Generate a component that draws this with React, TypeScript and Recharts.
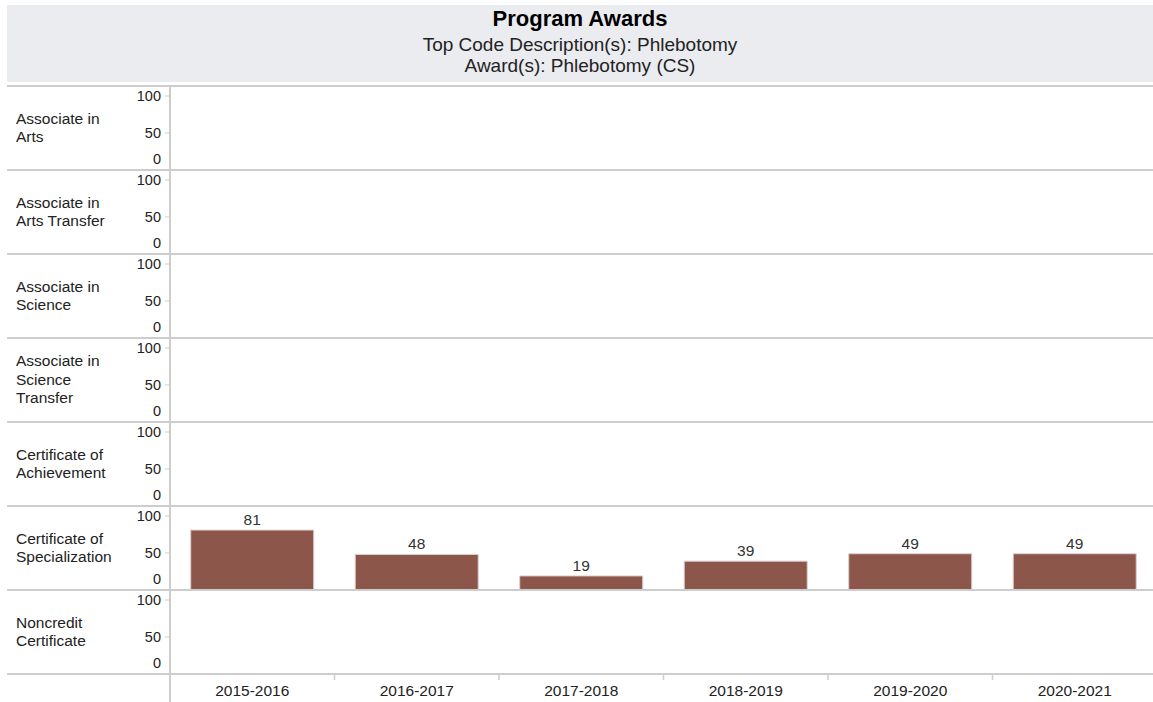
import React from 'react';
import { BarChart, Bar, XAxis, YAxis, LabelList } from 'recharts';

const categories = ['2015-2016', '2016-2017', '2017-2018', '2018-2019', '2019-2020', '2020-2021'];

const associateInArts: (number | null)[] = [null, null, null, null, null, null];
const associateInArtsTransfer: (number | null)[] = [null, null, null, null, null, null];
const associateInScience: (number | null)[] = [null, null, null, null, null, null];
const associateInScienceTransfer: (number | null)[] = [null, null, null, null, null, null];
const certificateOfAchievement: (number | null)[] = [null, null, null, null, null, null];
const certificateOfSpecialization: (number | null)[] = [81, 48, 19, 39, 49, 49];
const noncreditCertificate: (number | null)[] = [null, null, null, null, null, null];

const rowLabels = [
  ['Associate in', 'Arts'],
  ['Associate in', 'Arts Transfer'],
  ['Associate in', 'Science'],
  ['Associate in', 'Science', 'Transfer'],
  ['Certificate of', 'Achievement'],
  ['Certificate of', 'Specialization'],
  ['Noncredit', 'Certificate'],
];
const rowSeries = [
  associateInArts,
  associateInArtsTransfer,
  associateInScience,
  associateInScienceTransfer,
  certificateOfAchievement,
  certificateOfSpecialization,
  noncreditCertificate,
];

const yTicks = [0, 50, 100];
const title = 'Program Awards';
const subtitle1 = 'Top Code Description(s): Phlebotomy';
const subtitle2 = 'Award(s): Phlebotomy (CS)';

const FONT = '"Liberation Sans", Arial, sans-serif';
const ROW_TOP = 86;
const ROW_H = 84;
const AXIS_X = 170;
const CHART_W = 1157;
const X_AXIS_H = 28;
const LINE = '#cdcdcd';
const BAND = (CHART_W - AXIS_X) / categories.length;

const YTick = (props: any) => {
  const { x, y, payload } = props;
  const v = payload.value;
  return (
    <text x={x} y={y + (v === 0 ? -11 : 0)} dy="0.355em" textAnchor="end" fontSize={14.5} fill="#222" fontFamily={FONT}>
      {v}
    </text>
  );
};

const XTick = (props: any) => {
  const { x, y, payload, index } = props;
  const axisY = y - 8;
  return (
    <g>
      {index < categories.length - 1 && (
        <line x1={x + BAND / 2} x2={x + BAND / 2} y1={axisY} y2={axisY + 6} stroke={LINE} strokeWidth={1.5} />
      )}
      <text x={x} y={axisY + 16} dy="0.355em" textAnchor="middle" fontSize={15.5} fill="#222" fontFamily={FONT}>
        {payload.value}
      </text>
    </g>
  );
};

function Row({ index }: { index: number }) {
  const series = rowSeries[index];
  const data = categories.map((c, i) => ({ year: c, value: series[i] }));
  const isLast = index === rowSeries.length - 1;
  const h = ROW_H + (isLast ? X_AXIS_H : 0);
  return (
    <div style={{ position: 'absolute', left: 0, top: ROW_TOP + index * ROW_H, width: CHART_W, height: h }}>
      <BarChart
        width={CHART_W}
        height={h}
        data={data}
        margin={{ top: 0, right: 0, bottom: 0, left: 0 }}
        barCategoryGap="12.6%"
      >
        <XAxis
          dataKey="year"
          hide={!isLast}
          height={X_AXIS_H}
          axisLine={false}
          tickLine={false}
          tickSize={6}
          tickMargin={2}
          tick={<XTick />}
          interval={0}
        />
        <YAxis
          width={AXIS_X}
          domain={[0, 113.5]}
          ticks={yTicks}
          allowDataOverflow
          axisLine={false}
          tickLine={{ stroke: LINE, strokeWidth: 1 }}
          tickSize={5}
          tickMargin={4}
          tick={<YTick />}
          interval={0}
        />
        <Bar dataKey="value" fill="#8c564b" stroke="#dccfcc" strokeWidth={1} isAnimationActive={false}>
          <LabelList dataKey="value" position="top" offset={5} fontSize={15.5} fill="#333" fontFamily={FONT} />
        </Bar>
      </BarChart>
    </div>
  );
}

export default function App() {
  return (
    <div
      style={{
        position: 'absolute',
        left: 0,
        top: 0,
        width: 1153,
        height: 702,
        overflow: 'hidden',
        background: '#fff',
        fontFamily: FONT,
      }}
    >
      <div
        style={{
          position: 'absolute',
          left: 7,
          top: 5,
          width: 1146,
          height: 77,
          background: '#ebecf0',
          textAlign: 'center',
          color: '#222',
        }}
      >
        <div style={{ position: 'absolute', left: 0, right: 0, top: 2, fontSize: 22, fontWeight: 'bold', lineHeight: '24px', color: '#000' }}>
          {title}
        </div>
        <div style={{ position: 'absolute', left: 0, right: 0, top: 29, fontSize: 19, lineHeight: '22px' }}>{subtitle1}</div>
        <div style={{ position: 'absolute', left: 0, right: 0, top: 50, fontSize: 19, lineHeight: '22px' }}>{subtitle2}</div>
      </div>

      {rowSeries.map((_, i) => (
        <Row key={i} index={i} />
      ))}

      {rowSeries.map((_, i) => (
        <div
          key={'lab' + i}
          style={{
            position: 'absolute',
            left: 16,
            top: ROW_TOP + i * ROW_H,
            height: ROW_H,
            width: 115,
            display: 'flex',
            flexDirection: 'column',
            justifyContent: 'center',
            fontSize: 15.5,
            lineHeight: '18.5px',
            color: '#222',
          }}
        >
          {rowLabels[i].map((t, j) => (
            <div key={j}>{t}</div>
          ))}
        </div>
      ))}

      {Array.from({ length: rowSeries.length + 1 }).map((_, i) => (
        <div
          key={'ln' + i}
          style={{ position: 'absolute', left: 7, top: ROW_TOP - 1 + i * ROW_H, width: 1146, height: 2, background: LINE }}
        />
      ))}
      <div style={{ position: 'absolute', left: AXIS_X - 1, top: ROW_TOP, width: 2, height: 702 - ROW_TOP, background: LINE }} />
    </div>
  );
}
